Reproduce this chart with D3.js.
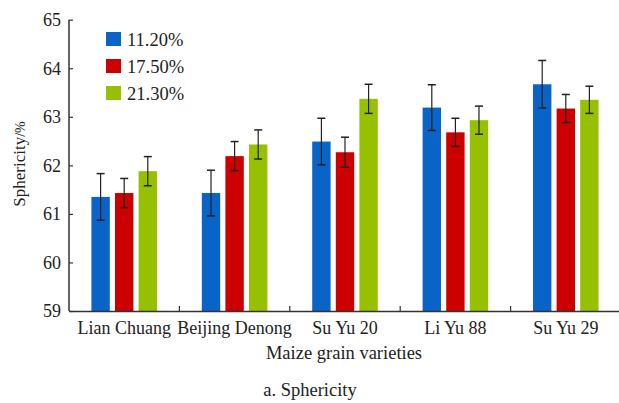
<!DOCTYPE html>
<html><head><meta charset="utf-8">
<script src="https://cdn.jsdelivr.net/npm/d3@7"></script>
<style>body{margin:0;background:#fff}svg{display:block}</style>
</head><body><svg id="c" width="619" height="403"></svg>
<script>
const categories = ["Lian Chuang","Beijing Denong","Su Yu 20","Li Yu 88","Su Yu 29"];
const seriesNames = ["11.20%","17.50%","21.30%"];
const s1 = [61.35, 61.43, 62.49, 63.19, 63.67];
const s2 = [61.43, 62.19, 62.27, 62.68, 63.17];
const s3 = [61.88, 62.43, 63.37, 62.93, 63.35];
const e1 = [0.48, 0.47, 0.48, 0.47, 0.49];
const e2 = [0.30, 0.30, 0.31, 0.29, 0.29];
const e3 = [0.30, 0.30, 0.30, 0.29, 0.28];
const yTicks = [59,60,61,62,63,64,65];
const colors = ["#0a64c8","#cc0000","#96c000"];
const FONT = "Liberation Serif, DejaVu Serif, serif";

const svg = d3.select("#c");
const L = 69, R = 621, T = 19.7, B = 311;
const x = d3.scaleBand().domain(categories).range([L,R]).padding(0);
const y = d3.scaleLinear().domain([59,65]).range([B,T]);
const inner = d3.scaleBand().domain(seriesNames).range([0,x.bandwidth()]).paddingInner(0.22).paddingOuter(0.95);

const vals = [s1,s2,s3], errs=[e1,e2,e3];
seriesNames.forEach((s,si)=>{
  const g = svg.append("g");
  categories.forEach((c,ci)=>{
    const v = vals[si][ci], e = errs[si][ci];
    const bx = x(c)+inner(s);
    g.append("rect").attr("x",bx).attr("y",y(v)).attr("width",inner.bandwidth()).attr("height",y(59)-y(v)).attr("fill",colors[si]);
    const cx = bx+inner.bandwidth()/2;
    g.append("line").attr("x1",cx).attr("x2",cx).attr("y1",y(v+e)).attr("y2",y(v-e)).attr("stroke","#222").attr("stroke-width",1.2);
    [v+e,v-e].forEach(t=>g.append("line").attr("x1",cx-4).attr("x2",cx+4).attr("y1",y(t)).attr("y2",y(t)).attr("stroke","#222").attr("stroke-width",1.5));
  });
});

// y axis
const ya = svg.append("g").attr("transform",`translate(${L},0)`).call(d3.axisLeft(y).tickValues(yTicks).tickSize(-4).tickPadding(8).tickFormat(d3.format("d")));
ya.attr("font-family",FONT).attr("font-size",18);
ya.select(".domain").attr("stroke","#333").attr("stroke-width",1.5).attr("d",`M0,${T}V${B}`);
ya.selectAll(".tick line").attr("stroke","#333").attr("stroke-width",1.2).attr("x1",0).attr("x2",4);
ya.selectAll(".tick text").attr("fill","#222");

// x axis
const xa = svg.append("g").attr("transform",`translate(0,${B})`).call(d3.axisBottom(x).tickSize(0).tickPadding(8));
xa.attr("font-family",FONT).attr("font-size",18);
xa.select(".domain").attr("stroke","#333").attr("stroke-width",1.5);
xa.selectAll(".tick text").attr("fill","#222").attr("dy","0.85em");
categories.slice(1).forEach(c=>{
  svg.append("line").attr("x1",x(c)).attr("x2",x(c)).attr("y1",B).attr("y2",B-5).attr("stroke","#333").attr("stroke-width",1.2);
});

// axis titles
const yt = svg.append("text").attr("transform","translate(25,164) rotate(-90)").attr("text-anchor","middle").attr("font-family",FONT).attr("font-size",17).attr("fill","#222");
yt.append("tspan").text("Sphericity");
yt.append("tspan").text("/%").attr("font-size",14);
svg.append("text").attr("x",344).attr("y",359).attr("text-anchor","middle").attr("font-family",FONT).attr("font-size",18.5).attr("fill","#222").text("Maize grain varieties");
svg.append("text").attr("x",310).attr("y",396).attr("text-anchor","middle").attr("font-family",FONT).attr("font-size",18.5).attr("fill","#222").text("a. Sphericity");

// legend
seriesNames.forEach((s,i)=>{
  const gy = 32 + i*27;
  svg.append("rect").attr("x",106).attr("y",gy).attr("width",15).attr("height",14).attr("fill",colors[i]);
  svg.append("text").attr("x",127).attr("y",gy+14).attr("font-family",FONT).attr("font-size",18.5).attr("fill","#222").text(s);
});
</script></body></html>
